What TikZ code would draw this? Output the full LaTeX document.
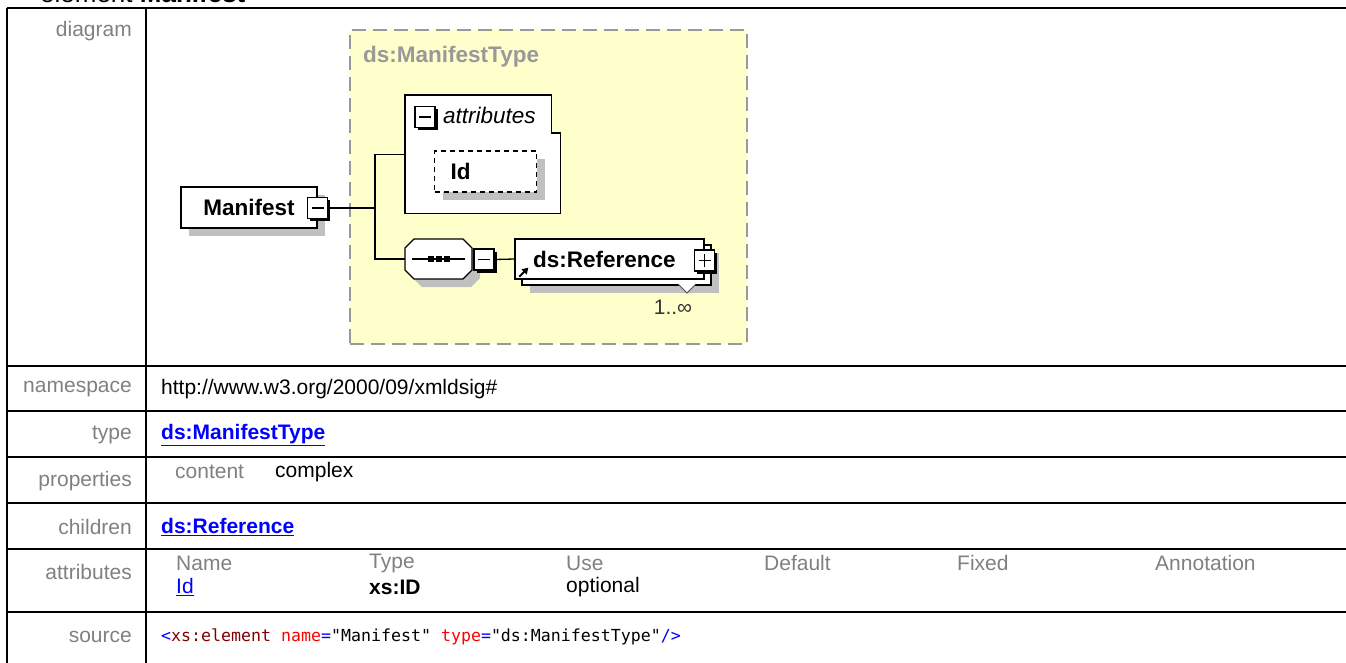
\documentclass[tikz,border=0pt]{standalone}
\usepackage{fontspec}
\setmainfont{Liberation Sans}
\setmonofont{DejaVu Sans Mono}
\usetikzlibrary{shadows, calc, arrows.meta}

\definecolor{lblgray}{HTML}{808080}
\definecolor{linkblue}{HTML}{0000FF}
\definecolor{typefill}{HTML}{FFFFCC}
\definecolor{typeedge}{HTML}{999999}
\definecolor{shadegray}{HTML}{C0C0C0}
\definecolor{tagred}{HTML}{800000}
\definecolor{attred}{HTML}{FF0000}

\newcommand{\tfont}{\fontsize{21}{25}\selectfont}
\newcommand{\dfont}{\fontsize{22.5}{27}\selectfont}

\begin{document}
\begin{tikzpicture}[x=1pt, y=-1pt,
    tline/.style={line width=2pt},
    rowlbl/.style={anchor=east, inner sep=0pt, font=\tfont, text=lblgray},
    cell/.style={anchor=west, inner sep=0pt, font=\tfont},
    link/.style={cell, font=\tfont\bfseries, text=linkblue},
    typebox/.style={rectangle, draw=typeedge, fill=typefill, line width=1.5pt, dash pattern=on 14pt off 7pt},
    boxplain/.style={rectangle, draw, line width=1.3pt, fill=white, font=\dfont\bfseries},
    elem/.style={boxplain, drop shadow={shadow xshift=8pt, shadow yshift=-8pt, fill=shadegray, opacity=1}},
    attrbox/.style={elem, dash pattern=on 5pt off 4pt, text width=70pt, inner xsep=16pt, minimum height=41pt, align=left},
    toggle/.style={rectangle, draw, line width=1.3pt, fill=white, minimum width=20pt, minimum height=21pt, inner sep=0pt, drop shadow={shadow xshift=2.5pt, shadow yshift=-2.5pt, fill=black, opacity=1}},
    minusbox/.style={toggle, path picture={\draw[line width=1.3pt] ([xshift=4pt]path picture bounding box.west) -- ([xshift=-4pt]path picture bounding box.east);}},
    plusbox/.style={toggle, path picture={
        \draw[line width=1.3pt] ([xshift=4pt]path picture bounding box.west) -- ([xshift=-4pt]path picture bounding box.east);
        \draw[line width=1.3pt] ([yshift=-4pt]path picture bounding box.north) -- ([yshift=4pt]path picture bounding box.south);}},
    conn/.style={line width=1.3pt}
]
\useasboundingbox (0,0) rectangle (1346,662);
\clip (0,0) rectangle (1346,662);

% heading, cut at the top edge
\node[anchor=base west, inner sep=0pt, font=\fontsize{26}{30}\selectfont] (title) at (40,2) {element \textbf{Manifest}};

% table frame
\draw[tline] (7,7.5) -- (1350,7.5);
\draw[tline] (7,7.5) -- (7,670);
\draw[tline] (146,7.5) -- (146,670);
\foreach \yy in {366,411,457,503,549,612}
    \draw[tline] (7,\yy) -- (1350,\yy);

\node[rowlbl] (lbldiag) at (132,31) {diagram};
\node[rowlbl] (lblns) at (132,389) {namespace};
\node[rowlbl] (lbltype) at (132,435) {type};
\node[rowlbl] (lblprop) at (132,481) {properties};
\node[rowlbl] (lblchild) at (132,527) {children};
\node[rowlbl] (lblattr) at (132,572) {attributes};
\node[rowlbl] (lblsrc) at (132,637) {source};

% diagram
\node[typebox, anchor=north west, minimum width=397pt, minimum height=314pt] (mtype) at (349,29) {};
\node[anchor=west, inner sep=0pt, font=\dfont\bfseries, text=typeedge] (mtypelbl) at (363,57) {ds:ManifestType};

\node[elem, minimum width=136pt, minimum height=41pt] (manifest) at (249,207.5) {Manifest};
\node[minusbox] (mmin) at (317.5,208) {};

\node[anchor=north west, minimum width=155pt, minimum height=118pt, inner sep=0pt] (attrs) at (405,95) {};
\draw[line width=1.3pt, fill=white] (attrs.north west) -- ($(attrs.north east)+(-9,0)$) -- ($(attrs.north east)+(-9,38)$)
    -- ($(attrs.north east)+(0,38)$) -- (attrs.south east) -- (attrs.south west) -- cycle;
\node[minusbox] (amin) at (425,117) {};
\node[anchor=west, inner sep=0pt, font=\dfont\itshape] (attrlbl) at (443,115) {attributes};
\node[attrbox] (idattr) at (485.5,171.5) {Id};

% sequence compositor
\node[minimum width=67pt, minimum height=40pt, inner sep=0pt] (seq) at (438.5,259) {};
\fill[shadegray] (seq.center) ++(8,8) ++(-24.5,-20) -- ++(49,0) -- ++(9,9) -- ++(0,22) -- ++(-9,9)
    -- ++(-49,0) -- ++(-9,-9) -- ++(0,-22) -- cycle;
\draw[line width=1.3pt, fill=white] (seq.center) ++(-24.5,-20) -- ++(49,0) -- ++(9,9) -- ++(0,22) -- ++(-9,9)
    -- ++(-49,0) -- ++(-9,-9) -- ++(0,-22) -- cycle;
\draw[conn] ([xshift=7pt]seq.west) -- ([xshift=-7pt]seq.east);
\foreach \dx in {-8,0,8}
    \fill ($(seq.center)+(\dx,0)$) +(-3,-3) rectangle +(3,3);
\node[minusbox] (smin) at (484,259.5) {};

\node[elem, minimum width=189pt, minimum height=40pt] (refback) at (616.5,265) {};
\node[boxplain, minimum width=189pt, minimum height=40pt, text width=153pt, inner xsep=18pt, align=left] (ref) at (609.5,259) {ds:Reference};
\node[plusbox] (rplus) at (704.5,260.5) {};
\draw[line width=2pt, -{Triangle[length=6pt,width=7pt]}] ([shift={(5,-3)}]ref.south west) -- ++(9,-9);
\draw[draw=black!70, fill=white, line width=1pt] (678,284) -- (687,293) -- (696,284);
\node[inner sep=0pt, font=\tfont, text=black!80] (mult) at (673,307) {1..∞};

\coordinate (trunk) at (375,208);
\draw[conn] (mmin.east) -- (trunk);
\draw[conn] (attrs.west) -| (trunk) |- (seq.west);
\draw[conn] (smin.east) -- (ref.west);

% table cells
\node[cell] (nsval) at (161,389) {http://www.w3.org/2000/09/xmldsig\#};
\node[link] (typeval) at (161,435) {\underline{ds:ManifestType}};
\node[cell, text=lblgray] (propkey) at (175,472) {content};
\node[cell] (propval) at (275,472) {complex};
\node[link] (childval) at (161,527) {\underline{ds:Reference}};
\foreach \hx/\hname in {176/Name, 369/Type, 566/Use, 764/Default, 957/Fixed, 1155/Annotation}
    \node[cell, text=lblgray] (hd\hname) at (\hx,563) {\hname};
\node[cell, text=linkblue] (attid) at (176,587) {\underline{Id}};
\node[cell, font=\tfont\bfseries] (atttype) at (369,587) {xs:ID};
\node[cell] (attuse) at (566,587) {optional};
\node[cell, font=\fontsize{16.6}{20}\selectfont\ttfamily] (srcval) at (161,637) {\textcolor{linkblue}{<}\textcolor{tagred}{xs:element} \textcolor{attred}{name}\textcolor{linkblue}{=}"Manifest" \textcolor{attred}{type}\textcolor{linkblue}{=}"ds:ManifestType"\textcolor{linkblue}{/>}};
\end{tikzpicture}
\end{document}
